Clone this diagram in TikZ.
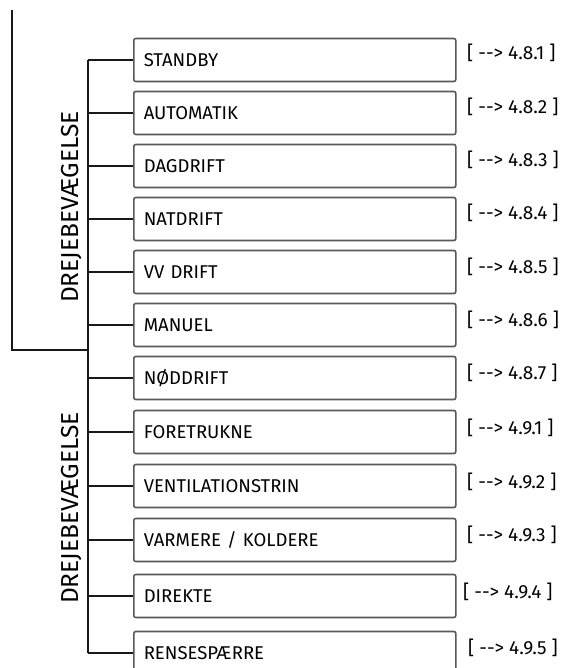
\documentclass[tikz,border=0pt]{standalone}
\usepackage{fontspec}
\setmainfont{Fira Sans}
\begin{document}
\begin{tikzpicture}[x=1pt,y=-1pt,
  menubox/.style={draw=black!65, line width=1.6pt, rounded corners=2pt,
    minimum height=43pt, text width=302pt, inner xsep=10pt, inner ysep=0pt,
    align=left, anchor=west, font=\fontsize{18.5}{22}\selectfont},
  reftext/.style={anchor=west, inner sep=0pt, font=\fontsize{19}{22}\selectfont},
  sidelabel/.style={rotate=90, inner sep=0pt, font=\fontsize{24.5}{28}\selectfont},
  wire/.style={line width=2pt, black!90}]
\useasboundingbox (0,0) rectangle (563,668);
\fill[white] (0,0) rectangle (563,668);

\foreach \i/\yy/\txt/\rr/\ry/\rx in {
  1/60/STANDBY/4.8.1/53/467,
  2/113/AUTOMATIK/4.8.2/107/467,
  3/166/DAGDRIFT/4.8.3/160/467,
  4/219/NATDRIFT/4.8.4/213/467,
  5/272/VV DRIFT/4.8.5/267/467,
  6/325/MANUEL/4.8.6/320/467,
  7/378/NØDDRIFT/4.8.7/373/467,
  8/432/FORETRUKNE/4.9.1/428/467,
  9/486/VENTILATIONSTRIN/4.9.2/482/467,
  10/540/{VARMERE / KOLDERE}/4.9.3/535/467,
  11/596/DIREKTE/4.9.4/592/463,
  12/653/RENSESPÆRRE/4.9.5/648/468}{
  \node[menubox] (b\i) at (133,\yy) {\txt};
  \node[reftext] (r\i) at (\rx,\ry) {[ -{}-{}> \rr\ ]};
  \coordinate (t\i) at (88,\yy);
  \draw[wire] (t\i) -- (b\i.west);
}
\draw[wire] (t1) -- (t12);

\coordinate (top) at (12,10);
\coordinate (corner) at (12,350);
\coordinate (join) at (88,350);
\draw[wire] (top) -- (corner) -- (join);

\node[sidelabel] (l1) at (72,207) {DREJEBEVÆGELSE};
\node[sidelabel] (l2) at (72,508) {DREJEBEVÆGELSE};
\end{tikzpicture}
\end{document}
